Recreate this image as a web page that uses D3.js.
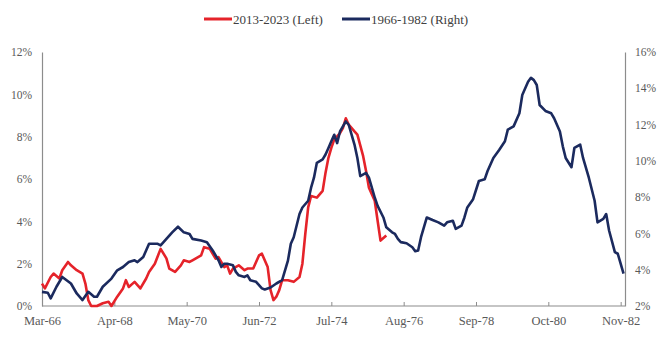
<!DOCTYPE html>
<html>
<head>
<meta charset="utf-8">
<script src="https://cdn.jsdelivr.net/npm/d3@7"></script>
<style>
  body { margin: 0; background: #fff; }
  #chart svg { display: block; }
</style>
</head>
<body>
<div id="chart"></div>
<script>
var width = 658;
var height = 338;

// x tick labels, one every 25 months starting Mar-66
var xLabels = ["Mar-66", "Apr-68", "May-70", "Jun-72", "Jul-74", "Aug-76", "Sep-78", "Oct-80", "Nov-82"];
var leftTicks = [0, 2, 4, 6, 8, 10, 12];
var rightTicks = [2, 4, 6, 8, 10, 12, 14, 16];

// 2013-2023 (left axis), month offset from start and CPI yoy %
var redMonths = [0, 1, 3, 4, 6, 7, 9, 10, 12, 14, 15, 16, 17, 19, 21, 23, 24, 26, 28, 29, 30, 32, 34, 36, 37, 39,
  41, 43, 44, 46, 48, 49, 51, 52, 55, 56, 58, 59, 60, 61, 63, 64, 65, 66, 68, 70, 71, 73, 75, 76, 78, 79, 80, 81,
  82, 83, 85, 87, 89, 90, 91, 92, 93, 95, 97, 98, 99, 100, 101, 103, 104, 105, 106, 108, 109, 111, 112, 113, 115,
  116, 117, 119];
var redValues = [1.06, 0.83, 1.37, 1.53, 1.30, 1.69, 2.08, 1.92, 1.69, 1.53, 1.06, 0.28, 0.0, 0.0, 0.13, 0.20, 0.0,
  0.44, 0.83, 1.22, 0.90, 1.14, 0.83, 1.30, 1.61, 2.00, 2.70, 2.25, 1.77, 1.61, 1.92, 2.16, 2.08, 2.16, 2.39, 2.78,
  2.70, 2.47, 2.24, 2.31, 1.84, 1.92, 1.53, 1.77, 1.92, 1.69, 1.77, 1.77, 2.39, 2.47, 1.84, 0.75, 0.28, 0.44, 0.75,
  1.22, 1.22, 1.14, 1.37, 2.00, 3.41, 4.66, 5.20, 5.12, 5.44, 6.30, 7.00, 7.47, 7.86, 8.17, 8.40, 8.87, 8.57, 8.25,
  8.10, 7.08, 6.38, 5.59, 4.97, 4.03, 3.09, 3.33];

// 1966-1982 (right axis)
var blueMonths = [0, 2, 3, 5, 7, 10, 12, 14, 16, 18, 19, 21, 24, 26, 28, 30, 32, 33, 35, 37, 40, 41, 43, 45, 47, 49,
  51, 52, 55, 57, 59, 61, 62, 63, 64, 66, 67, 68, 70, 71, 72, 74, 76, 77, 79, 81, 83, 85, 86, 87, 89, 90, 92, 93,
  94, 95, 97, 98, 99, 100, 101, 102, 103, 104, 105, 106, 107, 108, 109, 110, 112, 113, 114, 115, 116, 118, 119, 121,
  122, 123, 124, 126, 128, 129, 130, 131, 133, 135, 137, 139, 140, 142, 143, 145, 146, 147, 149, 151, 153, 154, 156,
  158, 160, 161, 163, 165, 166, 168, 169, 170, 171, 172, 174, 176, 177, 179, 180, 181, 183, 184, 186, 187, 189, 191,
  192, 194, 195, 196, 198, 199, 201];
var blueValues = [2.78, 2.73, 2.42, 3.06, 3.60, 3.24, 2.69, 2.33, 2.78, 2.51, 2.51, 3.06, 3.51, 3.97, 4.15, 4.42,
  4.52, 4.42, 4.70, 5.43, 5.43, 5.34, 5.70, 6.06, 6.37, 6.06, 5.97, 5.70, 5.61, 5.52, 5.06, 4.52, 4.15, 4.33, 4.33,
  4.24, 3.88, 3.69, 3.60, 3.69, 3.42, 3.33, 2.97, 2.91, 3.02, 3.24, 3.42, 4.50, 5.43, 5.79, 7.07, 7.43, 7.80, 8.52,
  9.07, 9.89, 10.08, 10.35, 10.71, 11.08, 11.44, 10.98, 11.62, 11.90, 12.17, 11.99, 11.44, 10.90, 10.16, 9.16, 9.34,
  9.07, 8.52, 7.98, 7.52, 6.88, 6.34, 6.06, 5.97, 5.70, 5.52, 5.46, 5.24, 5.02, 5.06, 5.79, 6.88, 6.74, 6.61, 6.43,
  6.61, 6.70, 6.25, 6.43, 6.88, 7.43, 7.89, 8.89, 8.98, 9.44, 10.16, 10.60, 11.08, 11.72, 11.90, 12.62, 13.63, 14.36,
  14.58, 14.45, 14.18, 13.08, 12.75, 12.62, 12.35, 11.62, 10.80, 10.16, 9.65, 10.71, 10.90, 10.16, 9.07, 7.80, 6.61,
  6.80, 7.07, 6.16, 4.97, 4.88, 3.79];

var redColor = "#e5232a";
var blueColor = "#1b2a5e";
var axisColor = "#8c8c8c";
var labelColor = "#595959";
var font = "'Liberation Serif', 'DejaVu Serif', serif";

var plot = { left: 42, right: 625, top: 52, bottom: 306 };

var svg = d3.select("#chart")
  .append("svg")
  .attr("width", width)
  .attr("height", height);

var x = d3.scaleLinear().domain([0, 201.5]).range([plot.left, plot.right]);
var yLeft = d3.scaleLinear().domain([0, 12]).range([plot.bottom, plot.top]);
var yRight = d3.scaleLinear().domain([2, 16]).range([plot.bottom, plot.top]);

// axes
var xAxis = d3.axisBottom(x)
  .tickValues(xLabels.map(function(d, i) { return i * 25; }))
  .tickFormat(function(d, i) { return xLabels[i]; })
  .tickSizeInner(-4)
  .tickSizeOuter(0)
  .tickPadding(10);

var gx = svg.append("g")
  .attr("transform", "translate(0," + plot.bottom + ")")
  .call(xAxis);

var gl = svg.append("g")
  .attr("transform", "translate(" + plot.left + ",0)")
  .call(d3.axisLeft(yLeft).tickValues(leftTicks).tickSize(0).tickPadding(10)
    .tickFormat(function(d) { return d + "%"; }));

var gr = svg.append("g")
  .attr("transform", "translate(" + plot.right + ",0)")
  .call(d3.axisRight(yRight).tickValues(rightTicks).tickSize(0).tickPadding(10)
    .tickFormat(function(d) { return d + "%"; }));

[gx, gl, gr].forEach(function(g) {
  g.select(".domain").attr("stroke", axisColor).attr("stroke-width", 1.2);
  g.selectAll(".tick line").attr("stroke", axisColor);
  g.selectAll("text")
    .attr("fill", labelColor)
    .style("font-family", font)
    .style("font-size", "11.5px");
});
gx.selectAll("text").style("font-size", "12.5px");
gx.select(".domain").attr("d", "M" + plot.left + ",0H" + plot.right);

// lines
var redData = redMonths.map(function(m, i) { return { m: m, v: redValues[i] }; });
var blueData = blueMonths.map(function(m, i) { return { m: m, v: blueValues[i] }; });

var redLine = d3.line()
  .x(function(d) { return x(d.m); })
  .y(function(d) { return yLeft(d.v); });

var blueLine = d3.line()
  .x(function(d) { return x(d.m); })
  .y(function(d) { return yRight(d.v); });

svg.append("path")
  .datum(redData)
  .attr("d", redLine)
  .attr("fill", "none")
  .attr("stroke", redColor)
  .attr("stroke-width", 2.6)
  .attr("stroke-linejoin", "round");

svg.append("path")
  .datum(blueData)
  .attr("d", blueLine)
  .attr("fill", "none")
  .attr("stroke", blueColor)
  .attr("stroke-width", 2.6)
  .attr("stroke-linejoin", "round");

// legend
var legend = [
  { name: "2013-2023 (Left)", color: redColor, x: 204 },
  { name: "1966-1982 (Right)", color: blueColor, x: 342 }
];
var lg = svg.selectAll(".legend-item")
  .data(legend)
  .enter().append("g")
  .attr("class", "legend-item")
  .attr("transform", function(d) { return "translate(" + d.x + ",19)"; });

lg.append("line")
  .attr("x1", 0).attr("x2", 28)
  .attr("stroke", function(d) { return d.color; })
  .attr("stroke-width", 3);

lg.append("text")
  .attr("x", 29)
  .attr("dy", "0.35em")
  .attr("fill", "#404040")
  .style("font-family", font)
  .style("font-size", "13px")
  .text(function(d) { return d.name; });
</script>
</body>
</html>
